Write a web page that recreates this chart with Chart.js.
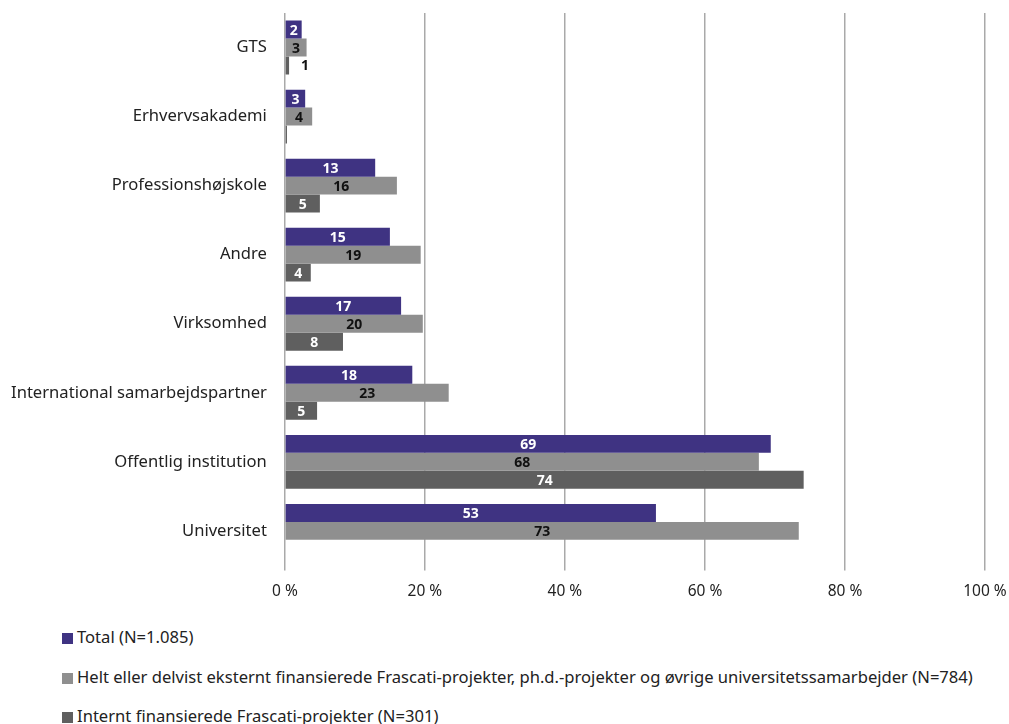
<!DOCTYPE html>
<html>
<head>
<meta charset="utf-8">
<script src="https://cdn.jsdelivr.net/npm/chart.js@4"></script>
<style>
    body { margin: 0; background: #fff; font-family: 'Noto Sans', sans-serif; }
    #wrap { position: relative; width: 1009px; height: 724px; overflow: hidden; }
    #chart-box { position: absolute; left: 0; top: 0; width: 1009px; height: 613px; }
    #legend { position: absolute; left: 62px; top: 626px; font-size: 16.6px; color: #222; }
    #legend div { height: 39.5px; line-height: 22px; white-space: nowrap; }
    #legend span.sw { display: inline-block; width: 11px; height: 11px; margin-right: 4px; vertical-align: -1px; }
</style>
</head>
<body>
<div id="wrap">
    <div id="chart-box"><canvas id="chart"></canvas></div>
    <div id="legend"></div>
</div>
<script>
const categories = ['GTS', 'Erhvervsakademi', 'Professionshøjskole', 'Andre', 'Virksomhed',
    'International samarbejdspartner', 'Offentlig institution', 'Universitet'];
const seriesNames = [
    'Total (N=1.085)',
    'Helt eller delvist eksternt finansierede Frascati-projekter, ph.d.-projekter og øvrige universitetssamarbejder (N=784)',
    'Internt finansierede Frascati-projekter (N=301)'
];
const totalValues = [2.4, 2.9, 12.9, 15.0, 16.6, 18.2, 69.4, 53.0];
const externalValues = [3.1, 3.9, 16.0, 19.4, 19.7, 23.4, 67.7, 73.4];
const internalValues = [0.6, 0.3, 5.0, 3.7, 8.3, 4.6, 74.1, null];
const xTicks = [0, 20, 40, 60, 80, 100];
const seriesColors = ['#3f3382', '#8f8f8f', '#5f5f5f'];
const labelColors = ['#ffffff', '#111111', '#ffffff'];

// tal midt i søjlen, eller til højre hvis søjlen er for smal
const barLabels = {
    id: 'barLabels',
    afterDatasetsDraw(chart) {
        const ctx = chart.ctx;
        ctx.save();
        ctx.font = 'bold 14px "Noto Sans"';
        ctx.textBaseline = 'middle';
        chart.data.datasets.forEach((ds, i) => {
            const meta = chart.getDatasetMeta(i);
            meta.data.forEach((bar, j) => {
                const v = ds.data[j];
                if (v === null || Math.round(v) === 0) return;
                const txt = String(Math.round(v));
                const w = ctx.measureText(txt).width;
                const len = bar.x - bar.base;
                if (len > w + 4) {
                    ctx.fillStyle = labelColors[i];
                    ctx.textAlign = 'center';
                    ctx.fillText(txt, (bar.x + bar.base) / 2, bar.y + 1);
                } else {
                    ctx.fillStyle = '#111111';
                    ctx.textAlign = 'left';
                    ctx.fillText(txt, bar.x + 12, bar.y + 1);
                }
            });
        });
        ctx.restore();
    }
};

const valueSets = [totalValues, externalValues, internalValues];

new Chart(document.getElementById('chart'), {
    type: 'bar',
    data: {
        labels: categories,
        datasets: valueSets.map((vals, i) => ({
            label: seriesNames[i],
            data: vals,
            backgroundColor: seriesColors[i],
            borderWidth: 0,
            barPercentage: 1.0,
            categoryPercentage: 0.78
        }))
    },
    options: {
        indexAxis: 'y',
        responsive: true,
        maintainAspectRatio: false,
        animation: false,
        layout: { padding: { left: 1, top: 13, right: 0, bottom: 0 } },
        plugins: {
            legend: { display: false },
            tooltip: { enabled: false }
        },
        scales: {
            x: {
                min: 0,
                max: 100,
                afterBuildTicks: axis => { axis.ticks = xTicks.map(v => ({ value: v })); },
                afterFit: s => { s.paddingRight = 24; },
                grid: { color: '#a9a9a9', lineWidth: 1.5, tickLength: 5, drawTicks: true },
                border: { display: false },
                ticks: {
                    color: '#222',
                    font: { family: 'Noto Sans', size: 15.5 },
                    padding: 12,
                    callback: v => v + ' %'
                }
            },
            y: {
                afterFit: s => { s.paddingTop = 0; s.paddingBottom = 0; },
                grid: { display: false },
                border: { display: false },
                ticks: {
                    color: '#222',
                    font: { family: 'Noto Sans', size: 16.6 },
                    padding: 10
                }
            }
        }
    },
    plugins: [barLabels]
});

const legend = document.getElementById('legend');
seriesNames.forEach((name, i) => {
    const row = document.createElement('div');
    row.innerHTML = '<span class="sw" style="background:' + seriesColors[i] + '"></span>' + name;
    legend.appendChild(row);
});
</script>
</body>
</html>
